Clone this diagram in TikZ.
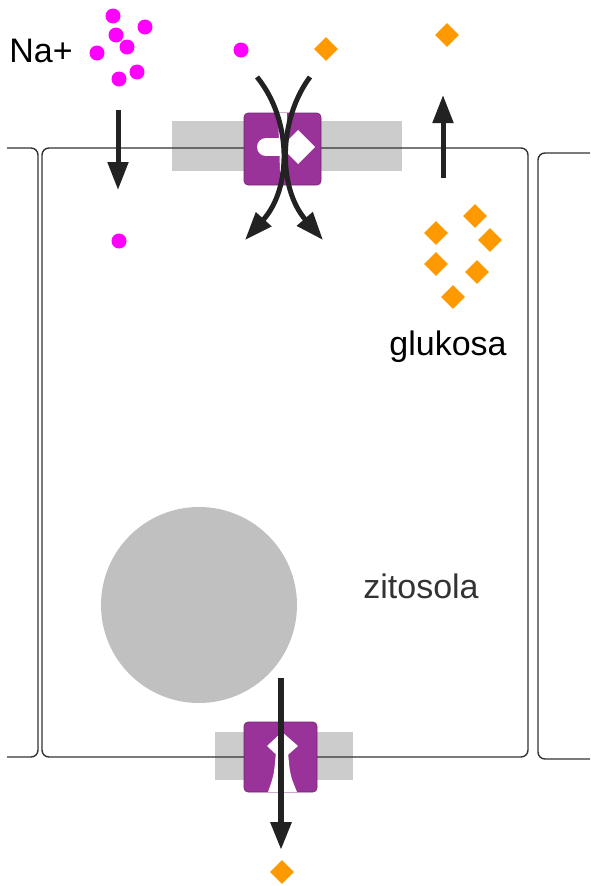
\documentclass[tikz,border=0pt]{standalone}
\usepackage{fontspec}
\setmainfont{Liberation Sans}
\usetikzlibrary{arrows.meta,shapes.geometric}

\definecolor{naion}{HTML}{FF00FF}
\definecolor{glcorange}{HTML}{FF9900}
\definecolor{carrierpurple}{HTML}{993399}
\definecolor{lipidgray}{HTML}{CCCCCC}
\definecolor{nucleusgray}{HTML}{C0C0C0}
\definecolor{wallgray}{HTML}{333333}
\definecolor{fluxblack}{HTML}{222222}

\begin{document}
\begin{tikzpicture}[
        x=1pt, y=-1pt,
        cell wall/.style ={draw=wallgray, line width=1.4pt, rounded corners=7pt},
        na ion/.style    ={circle, fill=naion, inner sep=0pt, minimum size=15pt},
        glc/.style       ={diamond, fill=glcorange, inner sep=0pt, minimum size=24pt},
        lipid/.style     ={fill=lipidgray},
        carrier/.style   ={fill=carrierpurple, draw=carrierpurple!75!black, line width=0.6pt, rounded corners=4pt},
        pocket/.style    ={fill=white},
        flux/.style      ={draw=fluxblack, line width=5pt, -{Triangle[length=28pt,width=20pt]}},
        tag txt/.style   ={font=\fontsize{34}{40}\selectfont, anchor=base}
    ]
    \useasboundingbox (0,0) rectangle (590,886);

    %% --- membrane bands under the carriers ---------------------------------
    \fill[lipid] (172,121) rectangle (402,171);
    \fill[lipid] (215,732) rectangle (353,780);

    %% --- the cell and its two neighbours ------------------------------------
    \draw[cell wall] (7,148) -- (38,148) -- (38,757) -- (7,757);
    \draw[cell wall] (42,148) rectangle (528,757);
    \draw[cell wall] (590,153) -- (538,153) -- (538,759) -- (590,759);

    % nucleus
    \fill[nucleusgray] (199,605) circle[radius=98];

    %% --- apical symporter ----------------------------------------------------
    \begin{scope}
        \draw[carrier] (244,113) rectangle (321,185);
        \fill[pocket] (278,113) -- (287,113) -- (286,170) -- (283,180) -- (280,170) -- cycle;
        \fill[pocket] (266,147) circle[radius=9];
        \fill[pocket] (266,138) rectangle (281,156);
        \fill[pocket] (281,147) -- (298,130) -- (315,147) -- (298,164) -- cycle;
    \end{scope}

    %% --- basal uniporter -----------------------------------------------------
    \begin{scope}
        \draw[carrier] (244,722) rectangle (317,792);
        \fill[pocket] (267,746) -- (282,732) -- (298,746) -- (282,760) -- cycle;
        \fill[pocket] (276,752) -- (288,752) .. controls (290,775) .. (297,792)
                      -- (268,792) .. controls (274,775) .. cycle;
    \end{scope}

    %% --- Na+ ions ------------------------------------------------------------
    \foreach \px/\py [count=\i] in {113/16, 145/27, 116/35, 127/47, 97/53, 119/79, 137/72, 241/50} {
            \node[na ion] (na\i) at (\px,\py) {};
        }
    \node[na ion] (naIn) at (119,241) {};

    %% --- glucose -------------------------------------------------------------
    \foreach \px/\py [count=\i] in {326/49, 447/35} {
            \node[glc] (glcOut\i) at (\px,\py) {};
        }
    \foreach \px/\py [count=\i] in {475/216, 436/233, 490/240, 436/264, 477/272, 453/297} {
            \node[glc] (glcIn\i) at (\px,\py) {};
        }
    \node[glc] (glcBlood) at (282,872) {};

    %% --- fluxes --------------------------------------------------------------
    \coordinate (naTail)   at (118,110);
    \coordinate (naHead)   at (118,190);
    \coordinate (glcTail)  at (443,178);
    \coordinate (glcHead)  at (443,95);
    \coordinate (symATail) at (257,77);
    \coordinate (symAHead) at (245,240);
    \coordinate (symBTail) at (310,77);
    \coordinate (symBHead) at (323,240);
    \coordinate (uniTail)  at (281,678);
    \coordinate (uniHead)  at (281,850);

    \draw[flux] (naTail) -- (naHead);
    \draw[flux] (glcTail) -- (glcHead);
    \draw[flux] (symATail) .. controls (292,120) and (292,188) .. (symAHead);
    \draw[flux] (symBTail) .. controls (278,120) and (278,188) .. (symBHead);
    \draw[flux, line width=6pt] (uniTail) -- (uniHead);

    %% --- labels --------------------------------------------------------------
    \node[tag txt] (naLbl)  at (41,62)   {Na+};
    \node[tag txt] (glcLbl) at (448,355) {glukosa};
    \node[tag txt, text=wallgray] (cytLbl) at (421,598) {zitosola};
\end{tikzpicture}
\end{document}
